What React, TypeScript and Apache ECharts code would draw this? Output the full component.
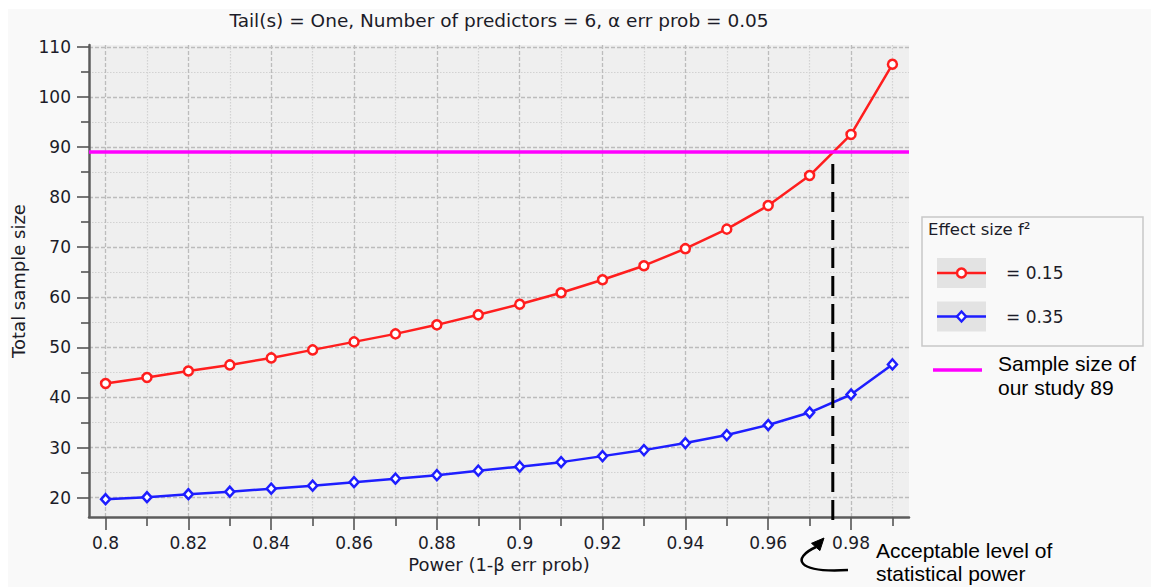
import React, { useEffect, useRef } from "react";
import * as echarts from "echarts";

// ---- data ----
const powerLevels = [0.8, 0.81, 0.82, 0.83, 0.84, 0.85, 0.86, 0.87, 0.88, 0.89, 0.9, 0.91, 0.92, 0.93, 0.94, 0.95, 0.96, 0.97, 0.98, 0.99];
const sampleSizeF2_015 = [42.8, 44.0, 45.3, 46.5, 47.9, 49.5, 51.1, 52.7, 54.5, 56.5, 58.6, 60.9, 63.5, 66.3, 69.7, 73.6, 78.3, 84.3, 92.5, 106.5];
const sampleSizeF2_035 = [19.7, 20.1, 20.7, 21.2, 21.8, 22.4, 23.1, 23.8, 24.5, 25.4, 26.2, 27.1, 28.3, 29.5, 30.9, 32.5, 34.5, 37.0, 40.6, 46.6];
const seriesNames = ["= 0.15", "= 0.35"];

const xLabelTicks = [0.8, 0.82, 0.84, 0.86, 0.88, 0.9, 0.92, 0.94, 0.96, 0.98];
const xMinorTicks = [0.81, 0.83, 0.85, 0.87, 0.89, 0.91, 0.93, 0.95, 0.97, 0.99];
const yLabelTicks = [20, 30, 40, 50, 60, 70, 80, 90, 100, 110];
const yMinorTicks = [25, 35, 45, 55, 65, 75, 85, 95, 105];

const X_MIN = 0.796;
const X_MAX = 0.994;
const Y_MIN = 16.15;
const Y_MAX = 110.35;

const studySampleSize = 89;
const acceptablePower = 0.9756;

const titleText = "Tail(s) = One, Number of predictors = 6, α err prob = 0.05";
const xName = "Power (1-β err prob)";
const yName = "Total sample size";
const legendTitle = "Effect size f²";
const studyLabel = "Sample size of\nour study 89";
const powerNote = "Acceptable level of\nstatistical power";

// ---- styles ----
const RED = "#ff1e1e";
const BLUE = "#1e1eff";
const MAGENTA = "#ff00ff";
const TEXT = "#1c1c28";
const FONT = '"DejaVu Sans", sans-serif';
const ARIAL = '"Liberation Sans", Arial, sans-serif';
const GRID = { left: 89, right: 242, top: 45, bottom: 70 };
const W = 1151;
const H = 587;

const majorSplit = { show: true, lineStyle: { color: "#bcbcbc", width: 1.3, type: [4, 2] as any } };
const minorSplit = { show: true, lineStyle: { color: "#d2d2d2", width: 1.2, type: [1.5, 1.5] as any } };
const tickStyle = { color: "#555", width: 1.6 };

export default function App() {
  const ref = useRef<HTMLDivElement>(null);

  useEffect(() => {
    const chart = echarts.init(ref.current!, null, { renderer: "svg" });
    const plotCenterX = GRID.left + (W - GRID.left - GRID.right) / 2;

    const legendX = 922;
    const legendY = 217;

    const option: any = {
      animation: false,
      backgroundColor: "#ffffff",
      textStyle: { fontFamily: FONT },
      grid: {
        left: GRID.left,
        right: GRID.right,
        top: GRID.top,
        bottom: GRID.bottom,
        show: true,
        backgroundColor: "#efefef",
        borderWidth: 0,
        containLabel: false,
        outerBoundsMode: "none",
      },
      xAxis: [
        {
          type: "value",
          min: X_MIN,
          max: X_MAX,
          position: "bottom",
          name: xName,
          nameLocation: "middle",
          nameGap: 38,
          nameTextStyle: { fontFamily: FONT, fontSize: 18, color: TEXT },
          axisLine: { show: true, onZero: false, lineStyle: { color: "#5c5c5c", width: 2.5 } },
          axisTick: { show: true, customValues: xLabelTicks, length: 13, lineStyle: tickStyle },
          axisLabel: {
            show: true,
            customValues: xLabelTicks,
            margin: 17,
            fontFamily: FONT,
            fontSize: 17,
            color: TEXT,
            formatter: (v: number) => String(Number(v.toFixed(2))),
          },
          splitLine: majorSplit,
        },
        {
          type: "value",
          min: X_MIN,
          max: X_MAX,
          position: "bottom",
          axisLine: { show: false, onZero: false },
          axisTick: { show: true, customValues: xMinorTicks, length: 9, lineStyle: tickStyle },
          axisLabel: { show: false },
          splitLine: minorSplit,
        },
      ],
      yAxis: [
        {
          type: "value",
          min: Y_MIN,
          max: Y_MAX,
          position: "left",
          name: yName,
          nameLocation: "middle",
          nameGap: 58,
          nameTextStyle: { fontFamily: FONT, fontSize: 18, color: TEXT },
          axisLine: { show: true, onZero: false, lineStyle: { color: "#5c5c5c", width: 2.5 } },
          axisTick: { show: true, customValues: yLabelTicks, length: 12, lineStyle: tickStyle },
          axisLabel: {
            show: true,
            customValues: yLabelTicks,
            margin: 18,
            fontFamily: FONT,
            fontSize: 17,
            color: TEXT,
          },
          splitLine: majorSplit,
        },
        {
          type: "value",
          min: Y_MIN,
          max: Y_MAX,
          position: "left",
          axisLine: { show: false, onZero: false },
          axisTick: { show: true, customValues: yMinorTicks, length: 8, lineStyle: tickStyle },
          axisLabel: { show: false },
          splitLine: minorSplit,
        },
      ],
      series: [
        {
          type: "line",
          name: seriesNames[0],
          xAxisIndex: 0,
          yAxisIndex: 0,
          data: powerLevels.map((p, i) => [p, sampleSizeF2_015[i]]),
          symbol: "circle",
          symbolSize: 9,
          itemStyle: { color: "#ffffff", borderColor: RED, borderWidth: 2.5 },
          lineStyle: { color: RED, width: 2.5 },
          emphasis: { disabled: true },
          z: 4,
          markLine: {
            silent: true,
            symbol: ["none", "none"],
            label: { show: false },
            lineStyle: { color: MAGENTA, width: 3.5, type: "solid" },
            emphasis: { disabled: true },
            data: [{ yAxis: studySampleSize }],
          },
        },
        {
          type: "line",
          name: seriesNames[1],
          xAxisIndex: 0,
          yAxisIndex: 0,
          data: powerLevels.map((p, i) => [p, sampleSizeF2_035[i]]),
          symbol: "diamond",
          symbolSize: [9, 10],
          itemStyle: { color: "#ffffff", borderColor: BLUE, borderWidth: 2.5 },
          lineStyle: { color: BLUE, width: 2.5 },
          emphasis: { disabled: true },
          z: 4,
        },
      ],
      graphic: {
        elements: [
          {
            id: "panel",
            type: "rect",
            z: -10,
            silent: true,
            shape: { x: 8, y: 9, width: W - 8, height: H - 9 },
            style: { fill: "#f9f9f9" },
          },
          {
            id: "title",
            type: "text",
            x: plotCenterX,
            y: 20,
            style: { text: titleText, font: `18.5px ${FONT}`, fill: TEXT, align: "center", verticalAlign: "middle" },
          },
          {
            id: "legendBox",
            type: "rect",
            shape: { x: legendX, y: legendY, width: 221, height: 129 },
            style: { fill: "#f9f9f9", stroke: "#c8c8c8", lineWidth: 1.5 },
          },
          {
            id: "legendTitle",
            type: "text",
            x: legendX + 6,
            y: legendY + 12,
            style: { text: legendTitle, font: `16.5px ${FONT}`, fill: TEXT, align: "left", verticalAlign: "middle" },
          },
          {
            id: "leg1",
            type: "group",
            x: legendX + 15,
            y: legendY + 56,
            children: [
              { type: "rect", shape: { x: 0, y: -15, width: 49, height: 30 }, style: { fill: "#e3e3e3" } },
              { type: "line", shape: { x1: 0, y1: 0, x2: 49, y2: 0 }, style: { stroke: RED, lineWidth: 2.5 } },
              { type: "circle", shape: { cx: 24.5, cy: 0, r: 4.5 }, style: { fill: "#fff", stroke: RED, lineWidth: 2.5 } },
              {
                type: "text",
                x: 69,
                y: 0,
                style: { text: seriesNames[0], font: `17px ${FONT}`, fill: TEXT, align: "left", verticalAlign: "middle" },
              },
            ],
          },
          {
            id: "leg2",
            type: "group",
            x: legendX + 15,
            y: legendY + 99.5,
            children: [
              { type: "rect", shape: { x: 0, y: -15, width: 49, height: 30 }, style: { fill: "#e3e3e3" } },
              { type: "line", shape: { x1: 0, y1: 0, x2: 49, y2: 0 }, style: { stroke: BLUE, lineWidth: 2.5 } },
              {
                type: "polygon",
                shape: { points: [[24.5, -5], [29, 0], [24.5, 5], [20, 0]] },
                style: { fill: "#fff", stroke: BLUE, lineWidth: 2.5 },
              },
              {
                type: "text",
                x: 69,
                y: 0,
                style: { text: seriesNames[1], font: `17px ${FONT}`, fill: TEXT, align: "left", verticalAlign: "middle" },
              },
            ],
          },
          {
            id: "studyLegend",
            type: "group",
            x: 933,
            y: 370,
            children: [
              { type: "line", shape: { x1: 0, y1: 0, x2: 49, y2: 0 }, style: { stroke: MAGENTA, lineWidth: 3.5 } },
              {
                type: "text",
                x: 65,
                y: 5,
                style: { text: studyLabel, font: `21px ${ARIAL}`, lineHeight: 24, fill: "#000", align: "left", verticalAlign: "middle" },
              },
            ],
          },
          {
            id: "powerNote",
            type: "text",
            x: 876,
            y: 561.5,
            style: { text: powerNote, font: `21px ${ARIAL}`, lineHeight: 23, fill: "#000", align: "left", verticalAlign: "middle" },
          },
          {
            id: "arrowShaft",
            type: "bezierCurve",
            shape: { x1: 848, y1: 570, cpx1: 795, cpy1: 573, cpx2: 792, cpy2: 558, x2: 816, y2: 547 },
            style: { stroke: "#000", lineWidth: 2.5, fill: null },
          },
          {
            id: "arrowHead",
            type: "polygon",
            shape: { points: [[824, 538], [811.5, 543.3], [819.9, 550.6]] },
            style: { fill: "#000", stroke: "#000", lineWidth: 1 },
          },
        ],
      },
    };

    chart.setOption(option);

    const top = chart.convertToPixel({ seriesIndex: 0 }, [acceptablePower, studySampleSize]) as number[];
    const bottom = chart.convertToPixel({ seriesIndex: 0 }, [acceptablePower, Y_MIN]) as number[];
    chart.setOption({
      graphic: {
        elements: [
          {
            id: "cutLine",
            type: "line",
            z: 50,
            shape: { x1: top[0], y1: top[1] + 12, x2: bottom[0], y2: bottom[1] + 9 },
            style: { stroke: "#000", lineWidth: 3, lineDash: [20, 8] },
          },
        ],
      },
    });

    return () => chart.dispose();
  }, []);

  return <div ref={ref} style={{ position: "fixed", left: 0, top: 0, width: W, height: H }} />;
}
